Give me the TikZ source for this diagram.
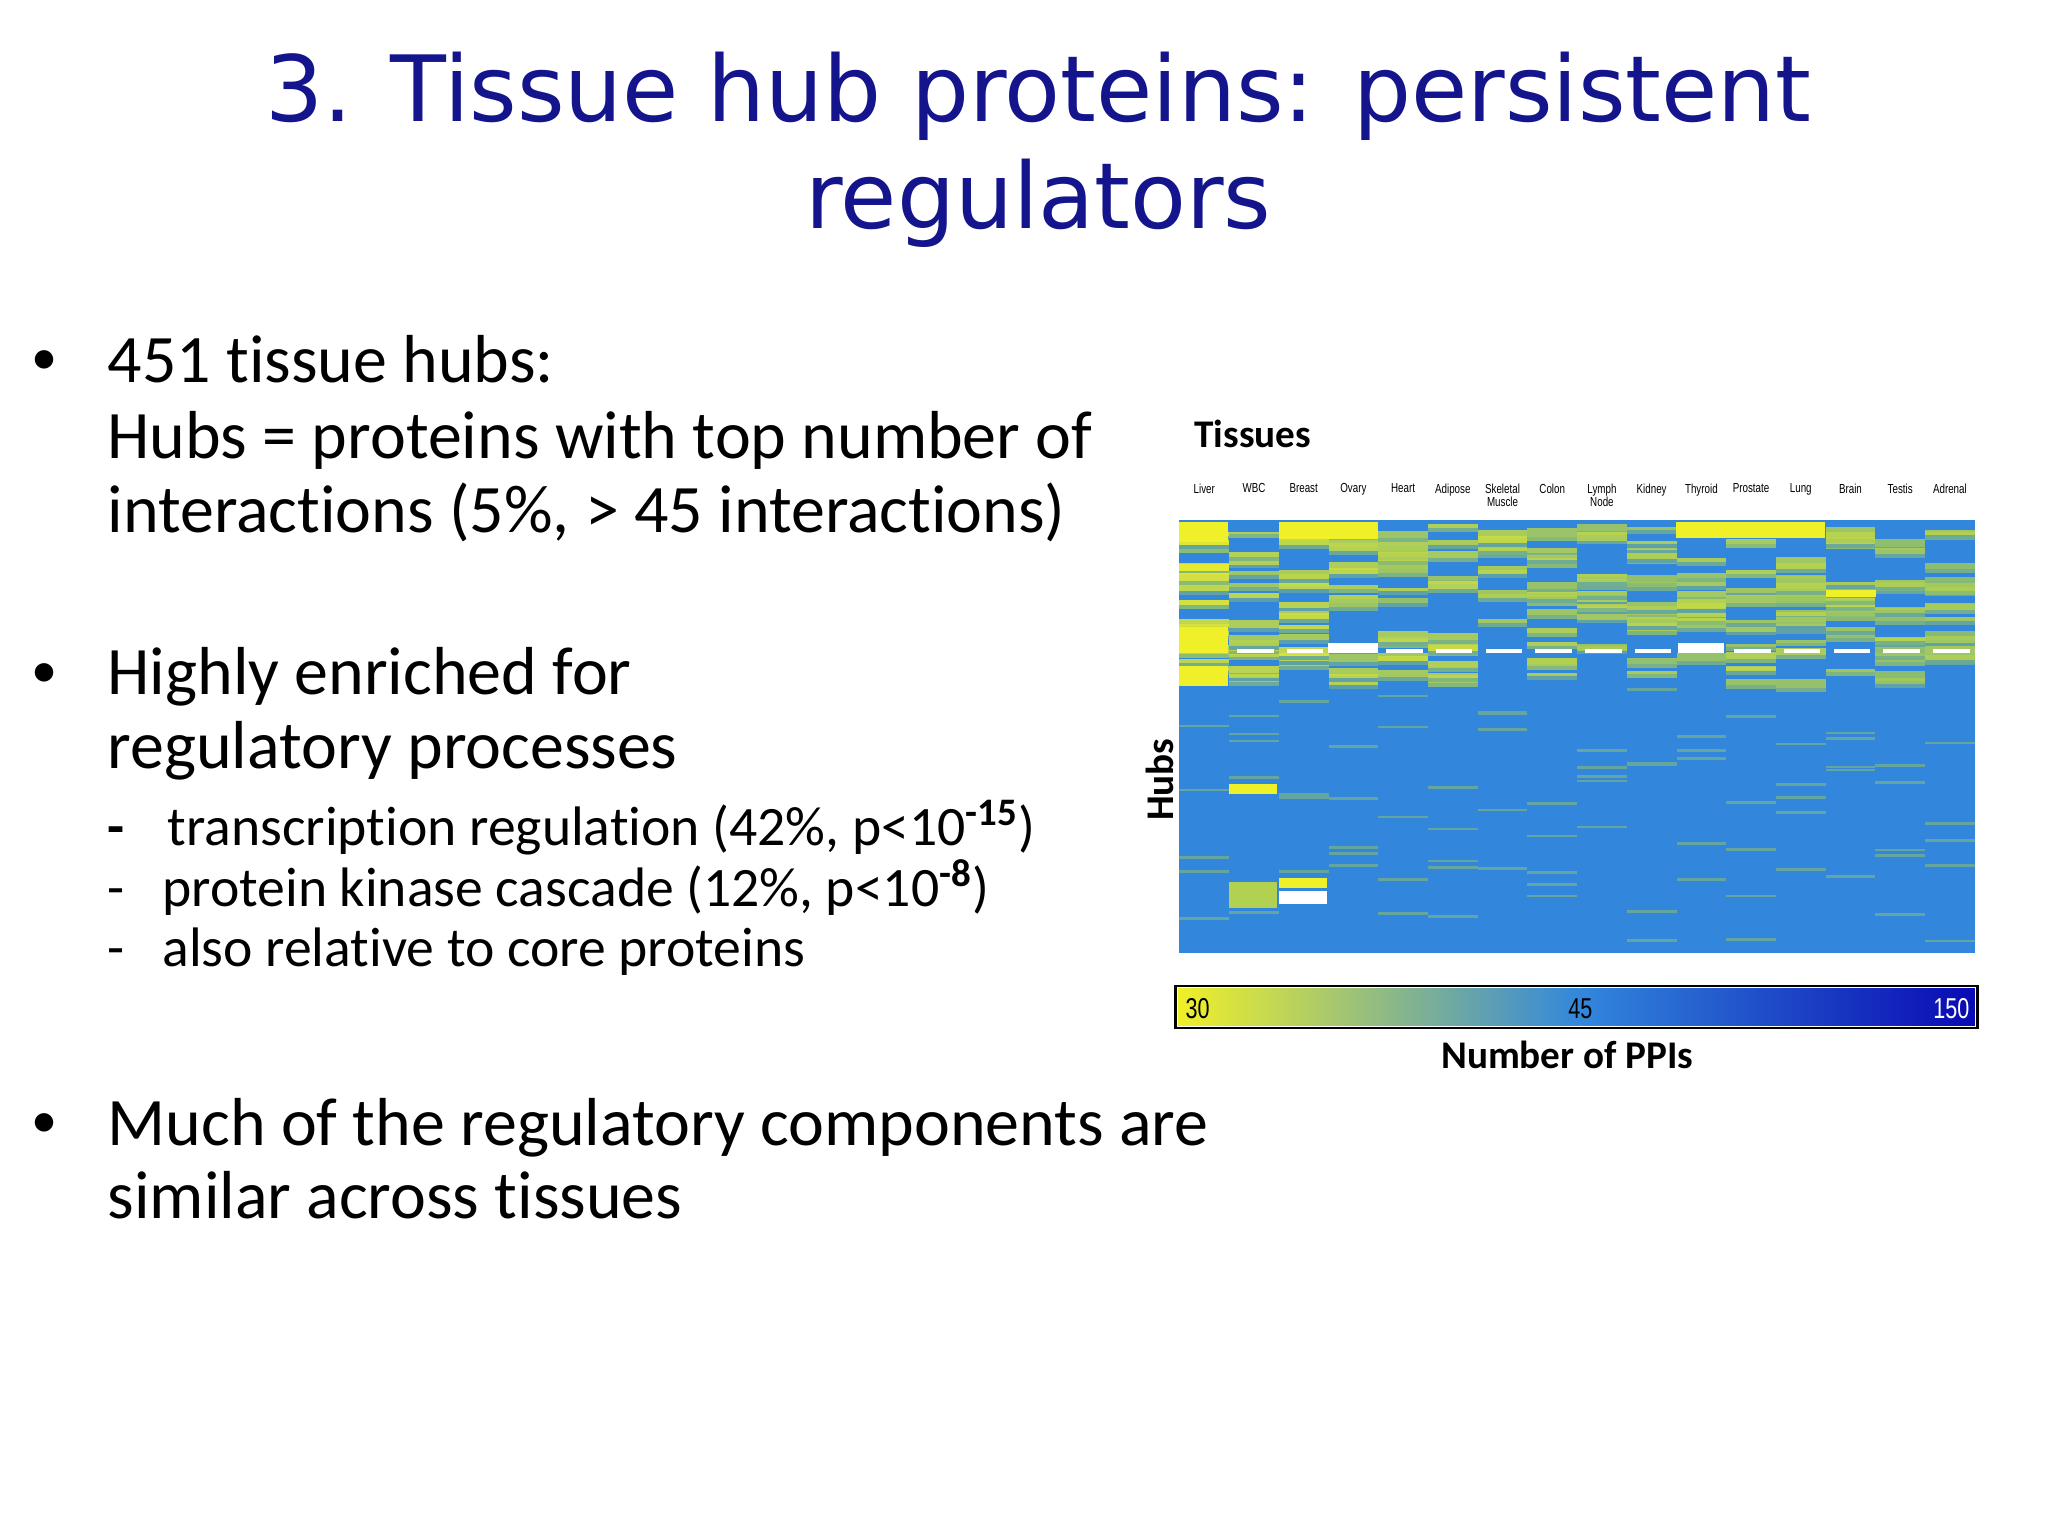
\documentclass[tikz,border=0pt]{standalone}
\usepackage{fontspec}
\setmainfont[Ligatures={NoCommon}]{Carlito}
\newfontfamily\titlefont{DejaVu Sans}
\newfontfamily\narrowfont[FakeStretch=0.75]{Liberation Sans}
\definecolor{navy}{RGB}{20,20,140}
\definecolor{hy}{RGB}{240,240,40}
\definecolor{hg}{RGB}{150,195,100}
\definecolor{hb}{RGB}{50,135,220}
\definecolor{hd}{RGB}{10,10,180}
\begin{document}
\begin{tikzpicture}[x=0.5pt,y=-0.5pt,
  body/.style={anchor=base west,inner sep=0pt,font=\fontsize{26}{28}\selectfont},
  sub/.style={anchor=base west,inner sep=0pt,font=\fontsize{21.3}{22}\selectfont},
  ttl/.style={anchor=base,inner sep=0pt,text=navy,font=\titlefont\fontsize{35}{40}\selectfont},
  col/.style={anchor=base,inner sep=0pt,font=\narrowfont\fontsize{5}{5}\selectfont,align=center}]
\useasboundingbox (0,0) rectangle (1568,1176);
\fill[white] (0,0) rectangle (1568,1176);
% title
\node[ttl] (t1) at (795,93) {3. Tissue hub proteins: persistent};
\node[ttl] (t2) at (795,175) {regulators};
% bullets
\foreach \y/\n in {293/b1,532/b2,877/b3}{\node[anchor=base west,inner sep=0pt,font=\fontsize{20}{20}\selectfont] (\n) at (24,\y-6) {•};}
\node[body] (l1) at (82,293) {451 tissue hubs:};
\node[body] (l2) at (82,351) {Hubs = proteins with top number of};
\node[body] (l3) at (82,408) {interactions (5\%, > 45 interactions)};
\node[body] (l4) at (82,532) {Highly enriched for};
\node[body] (l5) at (82,588) {regulatory processes};
\node[sub] (s1d) at (82,647) {\textbf{-}};
\node[sub] (s1) at (128,647) {transcription regulation (42\%, p<10\textsuperscript{\textbf{-15}})};
\node[sub] (s2d) at (82,694) {-};
\node[sub] (s2) at (124,694) {protein kinase cascade (12\%, p<10\textsuperscript{\textbf{-8}})};
\node[sub] (s3d) at (82,740) {-};
\node[sub] (s3) at (124,740) {also relative to core proteins};
\node[body] (l6) at (82,877) {Much of the regulatory components are};
\node[body] (l7) at (82,933) {similar across tissues};
% heatmap
\node[anchor=base west,inner sep=0pt,font=\bfseries\fontsize{15}{15}\selectfont] (tis) at (914,343) {Tissues};
\node[rotate=90,inner sep=0pt,font=\bfseries\fontsize{15}{15}\selectfont] (hubs) at (888,597) {Hubs};
\fill[hb] (903,398) rectangle (1512,730);
\pgfmathsetseed{7}
\foreach \i/\w in {0/0.6,1/0.3,2/0.4,3/0.2,4/0.15,5/0.2,6/0.2,7/0.15,8/0.15,9/0.1,10/0.15,11/0.15,12/0.1,13/0.1,14/0.05,15/0.0}{
  \pgfmathsetmacro{\xa}{903+\i*38.06}
  \pgfmathsetmacro{\xb}{903+(\i+1)*38.06}
  \foreach \k in {1,...,14}{
    \pgfmathsetmacro{\yy}{400+rnd*120}
    \pgfmathsetmacro{\hh}{2+rnd*5}
    \pgfmathsetmacro{\mix}{100*min(1,\w+0.4*rnd)}
    \pgfmathsetmacro{\bl}{40+50*rnd}
    \fill[hy!\mix!hg,opacity=0.85] (\xa,\yy) rectangle (\xb,\yy+\hh);
    \fill[hg!\bl!hb] (\xa,\yy+\hh) rectangle (\xb,\yy+\hh+3);
  }
  \foreach \k in {1,...,5}{
    \pgfmathsetmacro{\yy}{520+rnd*200}
    \fill[hg!50!hb] (\xa,\yy) rectangle (\xb,\yy+2);
  }
  \fill[white] (\xa+6,497) rectangle (\xb-4,500);
}
\fill[hy] (903,400) rectangle (940,415);
\fill[hy] (903,480) rectangle (940,500);
\fill[hy] (903,510) rectangle (940,525);
\fill[hy] (979,400) rectangle (1055,413);
\fill[hy] (1283,400) rectangle (1397,412);
\fill[hy] (941,600) rectangle (978,608);
\fill[hg!70!hy] (941,675) rectangle (978,695);
\fill[white] (979,682) rectangle (1016,692);
\fill[hy] (979,672) rectangle (1016,680);
\fill[white] (1017,492) rectangle (1055,500);
\fill[white] (1285,492) rectangle (1320,500);
\fill[hy] (1398,452) rectangle (1436,457);
% column labels
\foreach \i/\t in {0/Liver,1/WBC,2/Breast,3/Ovary,4/Heart,5/Adipose,6/{Skeletal\\Muscle},7/Colon,8/{Lymph\\Node},9/Kidney,10/Thyroid,11/Prostate,12/Lung,13/Brain,14/Testis,15/Adrenal}{
  \node[col,anchor=north] (c\i) at (903+\i*38.06+19,370) {\t};
}
% colorbar
\shade[left color=hy,right color=hb] (902,757) rectangle (1210,785);
\shade[left color=hb,right color=hd] (1210,757) rectangle (1512,785);
\draw[line width=1pt] (900,755) rectangle (1514,787);
\node[anchor=base,inner sep=0pt,font=\narrowfont\fontsize{11}{11}\selectfont] (v1) at (917,780) {30};
\node[anchor=base,inner sep=0pt,font=\narrowfont\fontsize{11}{11}\selectfont] (v2) at (1210,780) {45};
\node[anchor=base,inner sep=0pt,text=white,font=\narrowfont\fontsize{11}{11}\selectfont] (v3) at (1494,780) {150};
\node[anchor=base,inner sep=0pt,font=\bfseries\fontsize{15}{15}\selectfont] (npp) at (1200,818) {Number of PPIs};
\end{tikzpicture}
\end{document}
